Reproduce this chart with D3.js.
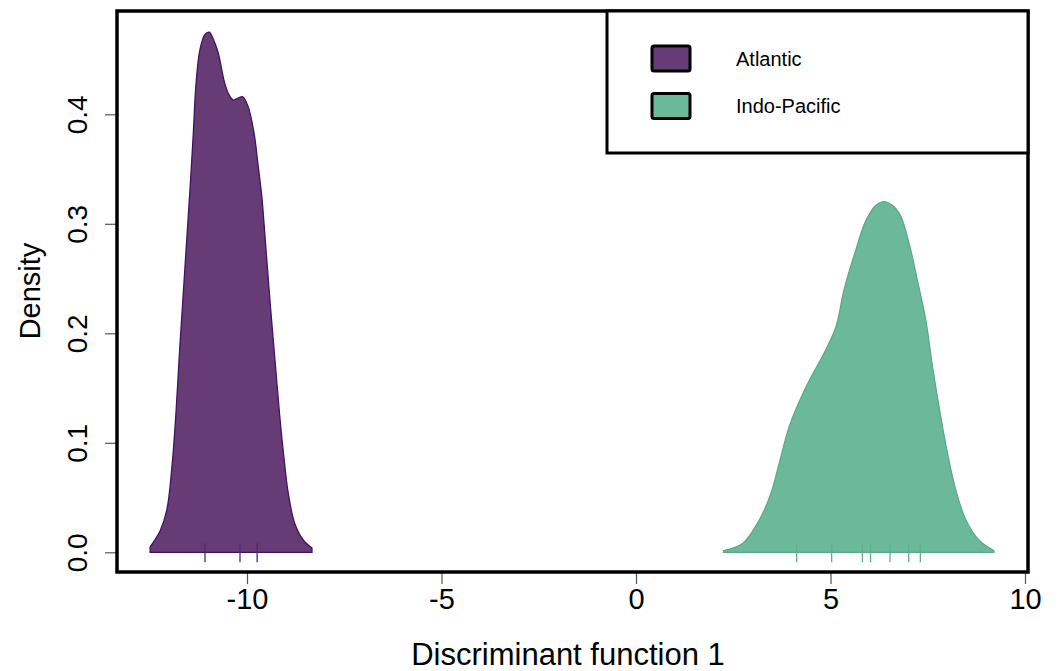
<!DOCTYPE html>
<html>
<head>
<meta charset="utf-8">
<script src="https://cdn.jsdelivr.net/npm/d3@7"></script>
<style>
  body { margin: 0; background: #fff; }
  text { font-family: "Liberation Sans", Arial, sans-serif; fill: #000; }
</style>
</head>
<body>
<script>
// density curves: [discriminant score, density]
const atlanticDensity = [
  [-12.49, 0.005], [-12.45, 0.007], [-12.23, 0.020], [-12.06, 0.039], [-11.93, 0.078],
  [-11.83, 0.125], [-11.74, 0.180], [-11.65, 0.230], [-11.55, 0.285], [-11.45, 0.340],
  [-11.38, 0.383], [-11.31, 0.428], [-11.21, 0.459], [-11.08, 0.473], [-10.97, 0.475],
  [-10.86, 0.468], [-10.74, 0.456], [-10.57, 0.428], [-10.45, 0.417], [-10.35, 0.413],
  [-10.22, 0.415], [-10.11, 0.416], [-9.97, 0.407], [-9.82, 0.383], [-9.71, 0.352],
  [-9.62, 0.325], [-9.53, 0.285], [-9.41, 0.230], [-9.28, 0.175], [-9.15, 0.121],
  [-9.07, 0.093], [-8.94, 0.054], [-8.77, 0.026], [-8.55, 0.011], [-8.33, 0.004]
];
const indoPacificDensity = [
  [2.25, 0.0015], [2.74, 0.008], [3.17, 0.0295], [3.47, 0.054], [3.68, 0.081],
  [3.94, 0.115], [4.37, 0.151], [4.88, 0.185], [5.14, 0.206], [5.35, 0.240],
  [5.65, 0.276], [5.91, 0.303], [6.17, 0.317], [6.42, 0.320], [6.76, 0.310],
  [7.02, 0.282], [7.23, 0.249], [7.45, 0.212], [7.62, 0.170], [7.79, 0.133],
  [8.01, 0.090], [8.22, 0.057], [8.48, 0.0295], [8.82, 0.011], [9.20, 0.0015]
];
// rug marks (individual observations)
const atlanticRug = [-11.08, -10.18, -9.74];
const indoPacificRug = [4.13, 5.03, 5.82, 6.03, 6.53, 7.01, 7.31];

const groups = ["Atlantic", "Indo-Pacific"];
const xTicks = [-10, -5, 0, 5, 10];
const yTicks = [0, 0.1, 0.2, 0.3, 0.4];

const W = 1058, H = 671;
const box = {left: 117, right: 1028, top: 11, bottom: 572};

const fills = {"Atlantic": "#673c76", "Indo-Pacific": "#6cb89a"};
const strokes = {"Atlantic": "#401260", "Indo-Pacific": "#5aab8a"};
const rugCols = {"Atlantic": "#4b2a78", "Indo-Pacific": "#5fae8e"};

const svg = d3.select("body")
  .append("svg")
    .attr("width", W)
    .attr("height", H);

const x = d3.scaleLinear().domain([-10, 10]).range([247, 1025]);
const y = d3.scaleLinear().domain([0, 0.4]).range([552.3, 114.3]);

const area = d3.area()
  .x(d => x(d[0]))
  .y0(y(0))
  .y1(d => y(d[1]))
  .curve(d3.curveCatmullRom.alpha(0.5));

const series = [
  {name: "Atlantic", dens: atlanticDensity, rug: atlanticRug},
  {name: "Indo-Pacific", dens: indoPacificDensity, rug: indoPacificRug}
];

series.forEach(function(s) {
  svg.append("path")
    .datum(s.dens)
    .attr("d", area)
    .attr("fill", fills[s.name])
    .attr("stroke", strokes[s.name])
    .attr("stroke-width", 1.3);

  svg.selectAll(".rug-" + s.name.replace(/\W/g, ""))
    .data(s.rug)
    .enter()
    .append("line")
      .attr("x1", d => x(d))
      .attr("x2", d => x(d))
      .attr("y1", y(0) - 9)
      .attr("y2", y(0) + 10)
      .attr("stroke", rugCols[s.name])
      .attr("stroke-width", 1.3);
});

// x axis (plain hyphen minus, like the original)
const xAxis = svg.append("g")
  .attr("transform", `translate(0, ${box.bottom})`)
  .call(d3.axisBottom(x).tickValues(xTicks).tickSize(12).tickFormat(d => String(d)));
xAxis.select(".domain").remove();
xAxis.selectAll("line").attr("stroke", "#555").attr("stroke-width", 1.2);
xAxis.selectAll("text")
  .attr("font-size", 29)
  .attr("font-family", "Liberation Sans, Arial, sans-serif")
  .attr("y", 16)
  .attr("dy", "0.71em");

// y axis
const yAxis = svg.append("g")
  .attr("transform", `translate(${box.left}, 0)`)
  .call(d3.axisLeft(y).tickValues(yTicks).tickSize(12).tickFormat(d3.format(".1f")));
yAxis.select(".domain").remove();
yAxis.selectAll("line").attr("stroke", "#555").attr("stroke-width", 1.2);
yAxis.selectAll("text")
  .attr("font-size", 28)
  .attr("font-family", "Liberation Sans, Arial, sans-serif")
  .attr("x", null)
  .attr("text-anchor", "middle")
  .attr("transform", "translate(-40, 0) rotate(-90)")
  .attr("dy", "0.35em");

// plot frame
svg.append("rect")
  .attr("x", box.left)
  .attr("y", box.top)
  .attr("width", box.right - box.left)
  .attr("height", box.bottom - box.top)
  .attr("fill", "none")
  .attr("stroke", "#000")
  .attr("stroke-width", 3.5);

// axis titles
svg.append("text")
  .attr("x", 568)
  .attr("y", 665)
  .attr("text-anchor", "middle")
  .attr("font-size", 31)
  .text("Discriminant function 1");

svg.append("text")
  .attr("transform", "translate(40, 291) rotate(-90)")
  .attr("text-anchor", "middle")
  .attr("font-size", 29)
  .text("Density");

// legend
const leg = svg.append("g");
leg.append("rect")
  .attr("x", 607)
  .attr("y", box.top)
  .attr("width", box.right - 607)
  .attr("height", 142)
  .attr("fill", "#fff")
  .attr("stroke", "#000")
  .attr("stroke-width", 3);

groups.forEach(function(g, i) {
  const yy = 58.5 + i * 47.5;
  leg.append("rect")
    .attr("x", 652)
    .attr("y", yy - 12.5)
    .attr("width", 38)
    .attr("height", 25)
    .attr("rx", 2)
    .attr("fill", fills[g])
    .attr("stroke", "#000")
    .attr("stroke-width", 3);
  leg.append("text")
    .attr("x", 736)
    .attr("y", yy)
    .attr("dy", "0.35em")
    .attr("font-size", 20)
    .text(g);
});
</script>
</body>
</html>
